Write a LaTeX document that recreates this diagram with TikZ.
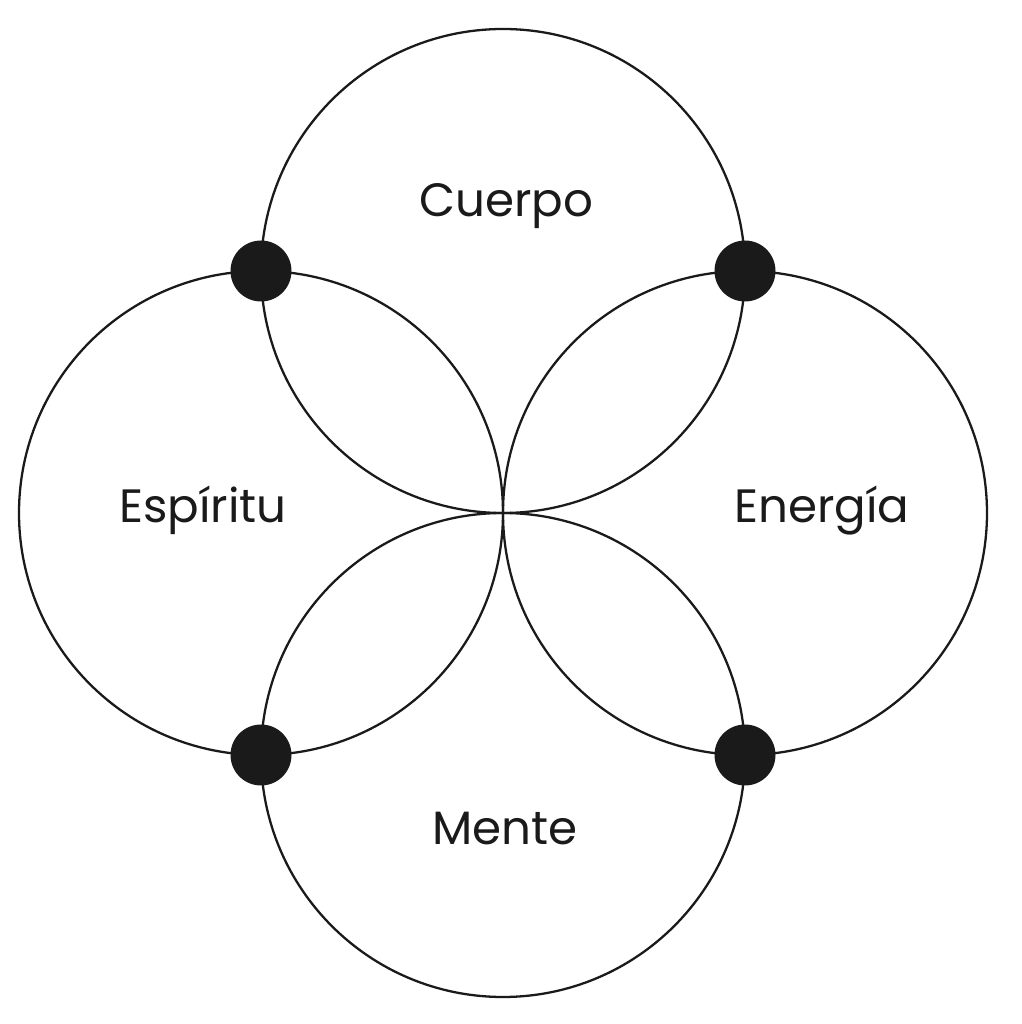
\documentclass[tikz,border=0pt]{standalone}
\usepackage{fontspec}
\setmainfont{Poppins}
\usetikzlibrary{positioning}
\definecolor{ink}{HTML}{1A1A1A}
\tikzset{ring/.style={draw=ink, line width=0.65pt},
  knot/.style={circle, fill=ink, inner sep=0pt, minimum size=0.61cm},
  lbl/.style={anchor=base, text=ink, font=\fontsize{13.3}{15}\selectfont}}

\begin{document}
\begin{tikzpicture}
  \useasboundingbox (0,0) rectangle (10.22,10.24);
  % circle centres
  \coordinate (C) at (5.03,7.53);
  \coordinate (E) at (2.61,5.11);
  \coordinate (N) at (7.45,5.11);
  \coordinate (M) at (5.03,2.69);
  \foreach \c in {C,E,N,M}
    \draw[ring] (\c) circle (2.42cm);
  % crossing points
  \node[knot] (ce) at (E |- C) {};
  \node[knot] (cn) at (N |- C) {};
  \node[knot] (me) at (E |- M) {};
  \node[knot] (mn) at (N |- M) {};
  % labels
  \node[lbl] (cuerpo) at (5.06,8.07) {Cuerpo};
  \node[lbl] (espiritu) at (2.03,5.01) {Espíritu};
  \node[lbl] (energia) at (8.22,5.01) {Energía};
  \node[lbl] (mente) at (5.05,1.79) {Mente};
\end{tikzpicture}
\end{document}
